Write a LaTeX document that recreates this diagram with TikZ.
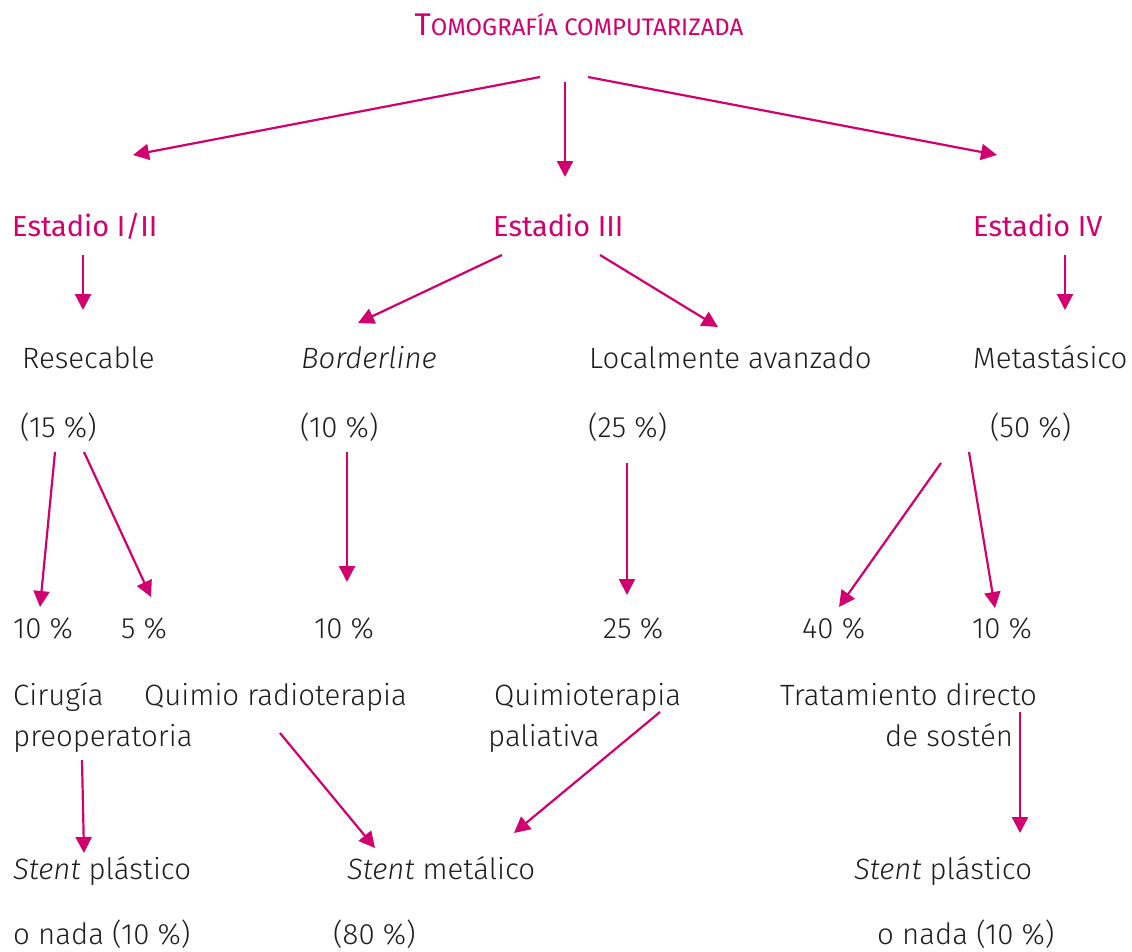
\documentclass[tikz,border=0pt]{standalone}
\usepackage{fontspec}
\setmainfont{Fira Sans}[UprightFont=* Light, ItalicFont=* Light Italic]
\newfontfamily\pinkfont{Fira Sans}
\usetikzlibrary{arrows.meta}
\definecolor{mag}{RGB}{210,0,110}
\definecolor{txt}{RGB}{30,30,30}
\begin{document}
\begin{tikzpicture}[x=1bp,y=-1bp,
  lbl/.style={anchor=base west,inner sep=0pt,text=txt,font=\fontsize{29.5}{34}\selectfont},
  plbl/.style={anchor=base west,inner sep=0pt,text=mag,font=\pinkfont\fontsize{29}{34}\selectfont},
  arr/.style={draw=mag,line width=2.2bp,-{Triangle[length=16bp,width=16bp]}}]
\useasboundingbox (0,0) rectangle (1132,952);
% title
\node[anchor=base,inner sep=0pt,text=mag] (title) at (579,35) {\pinkfont\fontsize{31.5}{34}\selectfont T\fontsize{24}{34}\selectfont OMOGRAFÍA COMPUTARIZADA};
% stages
\node[plbl] (e12) at (12,236) {Estadio I/II};
\node[plbl] (e3) at (493,236) {Estadio III};
\node[plbl] (e4) at (973,236) {Estadio IV};
% row 2
\node[lbl] (res) at (22,368) {Resecable};
\node[lbl] (bor) at (301,368) {\itshape Borderline};
\node[lbl] (loc) at (589,368) {Localmente avanzado};
\node[lbl] (met) at (973,368) {Metastásico};
\node[lbl] (p15) at (20,437) {(15 \%)};
\node[lbl] (p10) at (300,437) {(10 \%)};
\node[lbl] (p25) at (588,437) {(25 \%)};
\node[lbl] (p50) at (990,437) {(50 \%)};
% row 3
\node[lbl] (q10a) at (13,638) {10 \%};
\node[lbl] (q5) at (121,638) {5 \%};
\node[lbl] (q10b) at (314,638) {10 \%};
\node[lbl] (q25) at (603,638) {25 \%};
\node[lbl] (q40) at (802,638) {40 \%};
\node[lbl] (q10c) at (972,638) {10 \%};
% treatments
\node[lbl] (cir1) at (13,705) {Cirugía};
\node[lbl] (cir2) at (13,746) {preoperatoria};
\node[lbl] (qrt) at (144,705) {Quimio radioterapia};
\node[lbl] (qt1) at (494,705) {Quimioterapia};
\node[lbl] (qt2) at (488,746) {paliativa};
\node[lbl] (tr1) at (780,705) {Tratamiento directo};
\node[lbl] (tr2) at (885,746) {de sostén};
% outcomes
\node[lbl] (sp1) at (13,879) {\itshape Stent\upshape{} plástico};
\node[lbl] (sp1b) at (13,944) {o nada (10 \%)};
\node[lbl] (sm) at (347,879) {\itshape Stent\upshape{} metálico};
\node[lbl] (smb) at (333,944) {(80 \%)};
\node[lbl] (sp2) at (854,879) {\itshape Stent\upshape{} plástico};
\node[lbl] (sp2b) at (877,944) {o nada (10 \%)};
% arrow endpoints
\coordinate (t1) at (540,77); \coordinate (t1e) at (133,155);
\coordinate (t2) at (565,82); \coordinate (t2e) at (565,177);
\coordinate (t3) at (588,77); \coordinate (t3e) at (997,155);
\coordinate (a1) at (83,255); \coordinate (a1e) at (83,310);
\coordinate (b1) at (502,255); \coordinate (b1e) at (358,323);
\coordinate (b2) at (600,255); \coordinate (b2e) at (718,327);
\coordinate (c1) at (1065,255); \coordinate (c1e) at (1065,310);
\coordinate (d1) at (55,452); \coordinate (d1e) at (40,607);
\coordinate (d2) at (84,452); \coordinate (d2e) at (151,597);
\coordinate (d3) at (347,452); \coordinate (d3e) at (347,582);
\coordinate (d4) at (627,463); \coordinate (d4e) at (627,595);
\coordinate (d5) at (941,463); \coordinate (d5e) at (839,607);
\coordinate (d6) at (969,452); \coordinate (d6e) at (995,608);
\coordinate (f1) at (82,760); \coordinate (f1e) at (84,853);
\coordinate (f2) at (280,733); \coordinate (f2e) at (375,848);
\coordinate (f3) at (660,712); \coordinate (f3e) at (514,833);
\coordinate (f4) at (1020,712); \coordinate (f4e) at (1020,833);
\foreach \s in {t1,t2,t3,a1,b1,b2,c1,d1,d2,d3,d4,d5,d6,f1,f2,f3,f4}
  \draw[arr] (\s) -- (\s e);
\end{tikzpicture}
\end{document}
